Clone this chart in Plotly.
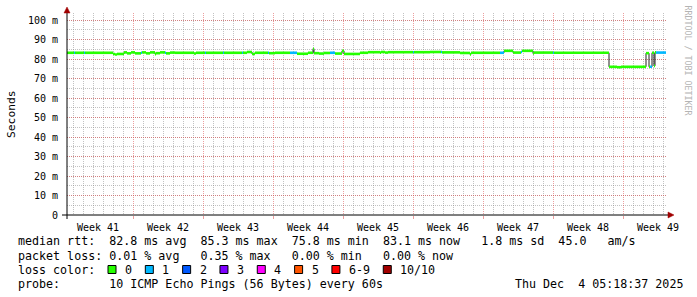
import plotly.graph_objects as go
import pandas as pd

# ---------------- data ----------------
START = pd.Timestamp("2025-10-06 09:36")
END = pd.Timestamp("2025-12-05 09:36")

# median rtt step segments: start (days after START), value (ms), loss count
seg_day = [0.0, 0.7, 0.8, 1.7, 1.8, 4.6, 4.8, 5.0, 5.7, 6.0, 6.4, 6.8, 7.4, 7.5, 7.9, 8.3,
           8.8, 8.9, 9.3, 9.8, 9.9, 10.3, 10.8, 12.7, 12.9, 13.8, 13.9, 15.6, 15.7, 17.5,
           17.6, 18.0, 18.5, 18.8, 20.1, 20.2, 20.8, 22.3, 23.0, 24.1, 24.6, 24.7, 25.2,
           25.7, 26.3, 26.8, 27.5, 27.7, 29.3, 30.1, 31.3, 31.4, 31.8, 32.1, 34.6, 34.7,
           36.3, 37.4, 37.5, 39.3, 40.3, 40.4, 43.3, 43.7, 44.6, 45.4, 45.5, 46.6, 46.7,
           48.6, 48.7, 54.2, 55.0, 55.4, 57.9, 58.2, 58.3, 58.5, 58.7, 58.8, 58.9]
seg_ms = [83.2, 83.2, 83.2, 83.2, 83.2, 82.6, 82.3, 82.6, 83.4, 82.9, 83.4, 82.9, 83.2, 83.4,
          82.9, 83.4, 82.5, 83.0, 83.4, 83.2, 82.9, 83.3, 83.2, 82.8, 83.2, 83.2, 83.2, 83.2,
          83.2, 83.2, 83.2, 83.6, 82.6, 83.2, 83.2, 83.0, 83.2, 83.2, 82.7, 83.2, 85.3, 83.0,
          82.8, 83.1, 83.2, 82.8, 84.2, 82.6, 83.2, 83.5, 83.3, 83.6, 83.3, 83.5, 83.5, 83.5,
          83.6, 83.6, 83.4, 83.1, 82.4, 83.2, 83.2, 84.2, 83.3, 83.6, 84.2, 82.8, 83.3, 83.2,
          83.2, 76.0, 75.8, 76.0, 83.0, 76.0, 76.0, 83.2, 76.5, 83.4, 83.3]
seg_loss = [0, 1, 0, 1, 0, 0, 0, 0, 0, 0, 0, 0, 1, 0, 0, 0, 0, 0, 0, 1, 0, 0, 0, 0, 0, 1, 0,
            1, 0, 1, 0, 0, 0, 0, 1, 0, 0, 1, 0, 0, 0, 0, 0, 0, 1, 0, 0, 0, 0, 0, 0, 0, 0, 0,
            1, 0, 0, 1, 0, 0, 0, 0, 1, 0, 0, 1, 0, 0, 0, 1, 0, 0, 0, 0, 0, 0, 1, 0, 0, 0, 1]
data_end_day = 59.9

loss_labels = ["0", "1", "2", "3", "4", "5", "6-9", "10/10"]
loss_colors = ["#26ff00", "#00b8ff", "#0059ff", "#7e00ff", "#ff00ff", "#ff5500", "#ff0000", "#a10000"]

y_tick_vals = [0, 10, 20, 30, 40, 50, 60, 70, 80, 90, 100]
y_tick_text = ["0", "10 m", "20 m", "30 m", "40 m", "50 m", "60 m", "70 m", "80 m", "90 m", "100 m"]

S = "\u00a0"
line_rtt = "median rtt:  82.8 ms avg  85.3 ms max  75.8 ms min  83.1 ms now   1.8 ms sd  45.0   am/s"
line_loss = "packet loss: 0.01 % avg   0.35 % max   0.00 % min   0.00 % now"
line_color = "loss color:"
line_probe = "probe:       10 ICMP Echo Pings (56 Bytes) every 60s"
stamp = "Thu Dec  4 05:18:37 2025"

# ---------------- geometry helpers ----------------
W, H = 697, 297
L, R, T, B = 67, 30, 13, 82
PW, PH = W - L - R, H - T - B


def px(x):
    return (x - L) / PW


def py(y):
    return (H - B - y) / PH


MONO = "DejaVu Sans Mono"
MAJ = "rgba(222,79,79,0.55)"
MIN = "rgba(143,143,143,0.55)"

times = [START + pd.Timedelta(days=d) for d in seg_day]
t_end = START + pd.Timedelta(days=data_end_day)

fig = go.Figure()

# dark step line (transitions)
fig.add_trace(go.Scatter(x=times + [t_end], y=seg_ms + [seg_ms[-1]], mode="lines",
                         line=dict(color="#222222", width=1, shape="hv"),
                         hoverinfo="skip", showlegend=False))

# coloured horizontal pieces by loss
for lv in sorted(set(seg_loss)):
    xs, ys = [], []
    for i, d in enumerate(seg_day):
        if seg_loss[i] != lv:
            continue
        t1 = times[i + 1] if i + 1 < len(times) else t_end
        xs += [times[i], t1, None]
        ys += [seg_ms[i], seg_ms[i], None]
    fig.add_trace(go.Scatter(x=xs, y=ys, mode="lines",
                             line=dict(color=loss_colors[lv], width=2.6),
                             hoverinfo="skip", showlegend=False))

fig.update_layout(
    width=W, height=H,
    margin=dict(l=L, r=R, t=T, b=B, pad=0),
    paper_bgcolor="white", plot_bgcolor="white",
    showlegend=False,
    xaxis=dict(
        type="date", range=[START, END], autorange=False,
        tick0="2025-10-13", dtick=7 * 86400000,
        ticklabelmode="period", tickformat="Week %V",
        showgrid=True, gridcolor=MAJ, griddash="1px,1px", gridwidth=1,
        ticks="outside", ticklen=3, tickcolor=MAJ,
        showline=False, zeroline=False, automargin=False,
        tickfont=dict(family=MONO, size=10, color="#000"),
        minor=dict(dtick=86400000, showgrid=True, gridcolor=MIN,
                   griddash="1px,1px", gridwidth=1, ticks=""),
    ),
    yaxis=dict(
        range=[0, 103.6], autorange=False,
        tickmode="array", tickvals=y_tick_vals, ticktext=y_tick_text,
        showgrid=True, gridcolor=MAJ, griddash="1px,1px", gridwidth=1,
        ticks="", ticklabelstandoff=8,
        showline=False, zeroline=False, automargin=False,
        tickfont=dict(family=MONO, size=10, color="#000"),
        minor=dict(tickmode="linear", tick0=0, dtick=5, showgrid=True, gridcolor=MIN,
                   griddash="1px,1px", gridwidth=1, ticks=""),
    ),
)

shapes = []
# axes lines
shapes.append(dict(type="line", xref="paper", yref="paper", x0=px(62), x1=px(669),
                   y0=py(215), y1=py(215), line=dict(color="black", width=1)))
shapes.append(dict(type="line", xref="paper", yref="paper", x0=px(67), x1=px(67),
                   y0=py(219), y1=py(12), line=dict(color="black", width=1)))
# arrows
shapes.append(dict(type="path", xref="paper", yref="paper",
                   path=f"M {px(668)},{py(212)} L {px(674)},{py(215)} L {px(668)},{py(218)} Z",
                   fillcolor="#a00000", line=dict(color="#a00000", width=0.5)))
shapes.append(dict(type="path", xref="paper", yref="paper",
                   path=f"M {px(64)},{py(13)} L {px(67)},{py(7)} L {px(70)},{py(13)} Z",
                   fillcolor="#a00000", line=dict(color="#a00000", width=0.5)))

annotations = []
FS = 11.66
CW = 7.02


def txt(x, y, s, **kw):
    d = dict(x=px(x), y=py(y), xref="paper", yref="paper", text=s.replace(" ", S),
             showarrow=False, xanchor="left", yanchor="middle",
             font=dict(family=MONO, size=FS, color="#000"))
    d.update(kw)
    annotations.append(d)


txt(16, 241.5, line_rtt)
txt(16, 255.5, line_loss)
txt(16, 269.5, line_color)
txt(16, 283.5, line_probe)
txt(513, 283.5, stamp)

# loss colour legend boxes
x = 108.0
for lab, col in zip(loss_labels, loss_colors):
    shapes.append(dict(type="rect", xref="paper", yref="paper",
                       x0=px(x), x1=px(x + 8), y0=py(273.5), y1=py(265.5),
                       fillcolor=col, line=dict(color="black", width=1)))
    txt(x + 15, 269.5, lab)
    x = x + 15 + len(lab) * CW + 15.3

# axis title
annotations.append(dict(x=px(11), y=py(114), xref="paper", yref="paper", text="Seconds",
                        showarrow=False, textangle=-90, xanchor="center", yanchor="middle",
                        font=dict(family=MONO, size=11.3, color="#000")))
# watermark
annotations.append(dict(x=px(687.5), y=py(60), xref="paper", yref="paper",
                        text="RRDTOOL / TOBI OETIKER".replace(" ", S),
                        showarrow=False, textangle=90, xanchor="center", yanchor="middle",
                        font=dict(family=MONO, size=8.3, color="#b4b4b4")))

fig.update_layout(shapes=shapes, annotations=annotations)
fig.write_html("out.html")
